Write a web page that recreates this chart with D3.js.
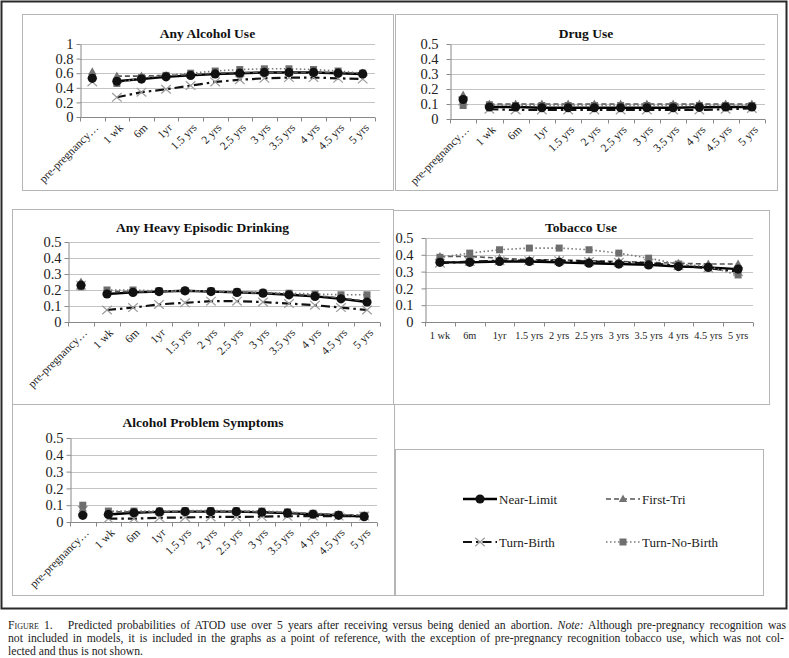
<!DOCTYPE html>
<html><head><meta charset="utf-8">
<script src="https://cdn.jsdelivr.net/npm/d3@7"></script>
<style>body{margin:0;background:#fff}svg{display:block}</style>
</head><body>
<svg id="c" width="789" height="658"></svg>
<script>
// ---------- DATA ----------
const categories = ["pre-pregnancy…","1 wk","6m","1yr","1.5 yrs","2 yrs","2.5 yrs","3 yrs","3.5 yrs","4 yrs","4.5 yrs","5 yrs"];
const tobaccoCategories = ["1 wk","6m","1yr","1.5 yrs","2 yrs","2.5 yrs","3 yrs","3.5 yrs","4 yrs","4.5 yrs","5 yrs"];
const seriesNames = ["Near-Limit","First-Tri","Turn-Birth","Turn-No-Birth"];
const titles = ["Any Alcohol Use","Drug Use","Any Heavy Episodic Drinking","Tobacco Use","Alcohol Problem Symptoms"];
const ticksOne = [0,0.2,0.4,0.6,0.8,1];
const ticksHalf = [0,0.1,0.2,0.3,0.4,0.5];

const alcoholNearLimit   = [0.53,0.49,0.52,0.55,0.57,0.59,0.60,0.61,0.61,0.61,0.60,0.59];
const alcoholFirstTri    = [0.62,0.56,0.56,0.57,0.58,0.60,0.61,0.61,0.61,0.61,0.61,0.60];
const alcoholTurnBirth   = [0.48,0.27,0.34,0.38,0.43,0.48,0.51,0.53,0.54,0.54,0.53,0.52];
const alcoholTurnNoBirth = [0.55,0.46,0.54,0.57,0.60,0.63,0.65,0.66,0.66,0.65,0.63,0.60];

const drugNearLimit   = [0.13,0.08,0.08,0.075,0.075,0.075,0.075,0.075,0.075,0.078,0.08,0.08];
const drugFirstTri    = [0.16,0.10,0.10,0.10,0.10,0.10,0.10,0.10,0.10,0.10,0.10,0.10];
const drugTurnBirth   = [0.12,0.065,0.06,0.06,0.06,0.06,0.06,0.06,0.06,0.06,0.065,0.07];
const drugTurnNoBirth = [0.09,0.095,0.09,0.09,0.09,0.09,0.09,0.09,0.09,0.09,0.09,0.09];

const heavyNearLimit   = [0.23,0.175,0.185,0.19,0.195,0.19,0.185,0.18,0.17,0.16,0.145,0.125];
const heavyFirstTri    = [0.25,0.19,0.19,0.19,0.195,0.19,0.185,0.18,0.175,0.165,0.15,0.13];
const heavyTurnBirth   = [0.23,0.075,0.09,0.11,0.12,0.13,0.13,0.125,0.115,0.105,0.09,0.075];
const heavyTurnNoBirth = [0.22,0.20,0.20,0.195,0.195,0.195,0.19,0.185,0.18,0.175,0.17,0.17];

const tobaccoNearLimit   = [0.355,0.355,0.36,0.36,0.355,0.35,0.345,0.34,0.33,0.325,0.315];
const tobaccoFirstTri    = [0.39,0.39,0.38,0.37,0.37,0.365,0.36,0.355,0.35,0.345,0.345];
const tobaccoTurnBirth   = [0.35,0.36,0.365,0.365,0.365,0.36,0.355,0.35,0.335,0.32,0.30];
const tobaccoTurnNoBirth = [0.385,0.41,0.43,0.44,0.44,0.43,0.41,0.38,0.345,0.33,0.28];

const apsNearLimit   = [0.04,0.045,0.055,0.06,0.062,0.062,0.062,0.058,0.053,0.046,0.04,0.032];
const apsFirstTri    = [0.08,0.06,0.06,0.06,0.063,0.063,0.063,0.06,0.057,0.05,0.045,0.04];
const apsTurnBirth   = [0.07,0.02,0.02,0.025,0.027,0.03,0.03,0.032,0.034,0.035,0.035,0.035];
const apsTurnNoBirth = [0.10,0.065,0.065,0.065,0.068,0.068,0.067,0.065,0.06,0.052,0.045,0.04];

const captionLines = [
  "Predicted probabilities of ATOD use over 5 years after receiving versus being denied an abortion.",
  "not included in models, it is included in the graphs as a point of reference, with the exception of pre-pregnancy recognition tobacco use, which was not col-",
  "lected and thus is not shown."
];

// ---------- STYLE ----------
const SERIF = "Liberation Serif, Times New Roman, serif";
const styles = [
  {stroke:"#000", width:2.4, dash:null, marker:"circle", fill:"#111"},
  {stroke:"#555", width:1.6, dash:"5,3", marker:"triangle", fill:"#737373"},
  {stroke:"#111", width:2.2, dash:"9,4,2.5,4", marker:"cross", fill:"#9c9c9c"},
  {stroke:"#777", width:1.6, dash:"1.5,2.5", marker:"square", fill:"#6e6e6e"}
];

const svg = d3.select("#c");
svg.append("rect").attr("x",0).attr("y",0).attr("width",789).attr("height",658).attr("fill","#fff");

function drawMarker(g, type, cx, cy, fill){
  if(type==="circle"){
    g.append("circle").attr("cx",cx).attr("cy",cy).attr("r",4.6).attr("fill",fill);
  } else if(type==="square"){
    g.append("rect").attr("x",cx-3.5).attr("y",cy-3.5).attr("width",7).attr("height",7).attr("fill",fill);
  } else if(type==="triangle"){
    g.append("path").attr("d",`M${cx},${cy-4.5}L${cx+4.2},${cy+3}L${cx-4.2},${cy+3}Z`).attr("fill",fill);
  } else {
    g.append("path").attr("d",`M${cx-4.8},${cy-4.3}L${cx+4.8},${cy+4.3}M${cx-4.8},${cy+4.3}L${cx+4.8},${cy-4.3}`)
      .attr("stroke",fill).attr("stroke-width",1.2).attr("fill","none");
  }
}

function panel(cfg){
  const g = svg.append("g");
  const [bx0,by0,bx1,by1] = cfg.box;
  g.append("rect").attr("x",bx0+0.5).attr("y",by0+0.5).attr("width",bx1-bx0).attr("height",by1-by0)
    .attr("fill","#fff").attr("stroke","#b5b5b5").attr("stroke-width",1);
  g.append("text").attr("x",(bx0+bx1)/2).attr("y",cfg.titleY).attr("text-anchor","middle")
    .attr("font-family",SERIF).attr("font-weight","bold").attr("font-size",13.5).attr("fill","#111").text(cfg.title);

  const x = d3.scaleBand().domain(cfg.cats).range([cfg.left,cfg.right]).padding(0);
  const y = d3.scaleLinear().domain(cfg.domain).range([cfg.bottom,cfg.top]);
  const bw = x.bandwidth();

  g.selectAll(".grid").data(cfg.ticks.filter(t=>t>0)).enter().append("line")
    .attr("x1",cfg.left).attr("x2",cfg.right).attr("y1",d=>Math.round(y(d))+0.5).attr("y2",d=>Math.round(y(d))+0.5)
    .attr("stroke","#c4c4c4").attr("stroke-width",1);

  const ya = g.append("g").attr("transform",`translate(${cfg.left+0.5},0)`)
    .call(d3.axisLeft(y).tickValues(cfg.ticks).tickSizeInner(4).tickSizeOuter(0).tickPadding(cfg.pad).tickFormat(d3.format("~g")));
  ya.select(".domain").attr("stroke","#888");
  ya.selectAll(".tick line").attr("stroke","#888");
  ya.selectAll("text").attr("font-family",SERIF).attr("font-size",14.5).attr("fill","#222");

  const by = Math.round(y(0))+0.5;
  g.append("line").attr("x1",cfg.left).attr("x2",cfg.right).attr("y1",by).attr("y2",by).attr("stroke","#888");
  const edges = cfg.cats.map(c=>x(c)).concat([cfg.right]);
  g.selectAll(".xt").data(edges).enter().append("line")
    .attr("x1",d=>Math.round(d)+0.5).attr("x2",d=>Math.round(d)+0.5).attr("y1",by).attr("y2",by+4).attr("stroke","#888");
  if(cfg.rotate){
    g.selectAll(".xl").data(cfg.cats).enter().append("text")
      .attr("transform",c=>`translate(${x(c)+bw/2+4},${by+8}) rotate(-45)`)
      .attr("text-anchor","end").attr("dy","0.35em")
      .attr("font-family",SERIF).attr("font-size",11.5).attr("fill","#222").text(c=>c);
  } else {
    g.selectAll(".xl").data(cfg.cats).enter().append("text")
      .attr("x",c=>x(c)+bw/2).attr("y",by+16).attr("text-anchor","middle")
      .attr("font-family",SERIF).attr("font-size",10.3).attr("fill","#222").text(c=>c);
  }

  cfg.series.forEach((vals,si)=>{
    const st = styles[si];
    let pts = vals.map((v,i)=>[x(cfg.cats[i])+bw/2, y(v)]);
    if(cfg.gap) pts = pts.slice(1);
    const p = g.append("path").attr("d",d3.line()(pts)).attr("fill","none")
      .attr("stroke",st.stroke).attr("stroke-width",st.width);
    if(st.dash) p.attr("stroke-dasharray",st.dash);
  });
  [2,1,3,0].forEach(si=>{
    const st = styles[si];
    cfg.series[si].forEach((v,i)=>drawMarker(g,st.marker,x(cfg.cats[i])+bw/2,y(v),st.fill));
  });
}

svg.append("rect").attr("x",1.5).attr("y",1.5).attr("width",785).attr("height",607)
  .attr("fill","none").attr("stroke","#2a2a2a").attr("stroke-width",2);

panel({box:[22,14,393,190], title:titles[0], titleY:37.5, cats:categories, left:80, right:375, top:44, bottom:117,
  domain:[0,1], ticks:ticksOne, pad:3, rotate:true, gap:true,
  series:[alcoholNearLimit,alcoholFirstTri,alcoholTurnBirth,alcoholTurnNoBirth]});
panel({box:[395,14,777,190], title:titles[1], titleY:37.5, cats:categories, left:450, right:765, top:44, bottom:119,
  domain:[0,0.5], ticks:ticksHalf, pad:8, rotate:true, gap:true,
  series:[drugNearLimit,drugFirstTri,drugTurnBirth,drugTurnNoBirth]});
panel({box:[12,209,393,404], title:titles[2], titleY:232, cats:categories, left:68, right:380, top:242, bottom:322,
  domain:[0,0.5], ticks:ticksHalf, pad:3, rotate:true, gap:true,
  series:[heavyNearLimit,heavyFirstTri,heavyTurnBirth,heavyTurnNoBirth]});
panel({box:[393,210,769,404], title:titles[3], titleY:232, cats:tobaccoCategories, left:425, right:753, top:238, bottom:322,
  domain:[0,0.5], ticks:ticksHalf, pad:8, rotate:false, gap:false,
  series:[tobaccoNearLimit,tobaccoFirstTri,tobaccoTurnBirth,tobaccoTurnNoBirth]});
panel({box:[12,404,394,595], title:titles[4], titleY:427, cats:categories, left:70, right:377, top:438, bottom:522,
  domain:[0,0.5], ticks:ticksHalf, pad:3, rotate:true, gap:true,
  series:[apsNearLimit,apsFirstTri,apsTurnBirth,apsTurnNoBirth]});

// legend
const lg = svg.append("g");
lg.append("rect").attr("x",395.5).attr("y",449.5).attr("width",368).attr("height",146)
  .attr("fill","#fff").attr("stroke","#b5b5b5");
const legPos = [[463,499],[606,499],[463,542],[606,542]];
seriesNames.forEach((nm,i)=>{
  const st = styles[i];
  const [lx,ly] = legPos[i];
  const l = lg.append("line").attr("x1",lx).attr("x2",lx+34).attr("y1",ly).attr("y2",ly)
    .attr("stroke",st.stroke).attr("stroke-width",st.width);
  if(st.dash) l.attr("stroke-dasharray",st.dash);
  drawMarker(lg,st.marker,lx+17,ly,st.fill);
  lg.append("text").attr("x",lx+36).attr("y",ly+4.5).attr("font-family",SERIF).attr("font-size",13)
    .attr("fill","#222").text(nm);
});

// caption
const cap = svg.append("g").attr("font-family",SERIF).attr("font-size",11.7).attr("fill","#222");
const t1 = cap.append("text").attr("x",8).attr("y",628.5).attr("xml:space","preserve");
t1.append("tspan").attr("font-variant","small-caps").text("Figure 1.");
t1.append("tspan").text("   " + captionLines[0] + " ");
t1.append("tspan").attr("font-style","italic").text("Note:");
t1.append("tspan").text(" Although pre-pregnancy recognition was");
const t2 = cap.append("text").attr("x",8).attr("y",641.5).text(captionLines[1]);
cap.append("text").attr("x",8).attr("y",654.5).text(captionLines[2]);
function justify(t, target, spaces){
  const len = t.node().getComputedTextLength();
  t.attr("word-spacing", ((target-len)/spaces).toFixed(3));
}
justify(t1, 776, 22);
justify(t2, 776, 26);
</script>
</body></html>
